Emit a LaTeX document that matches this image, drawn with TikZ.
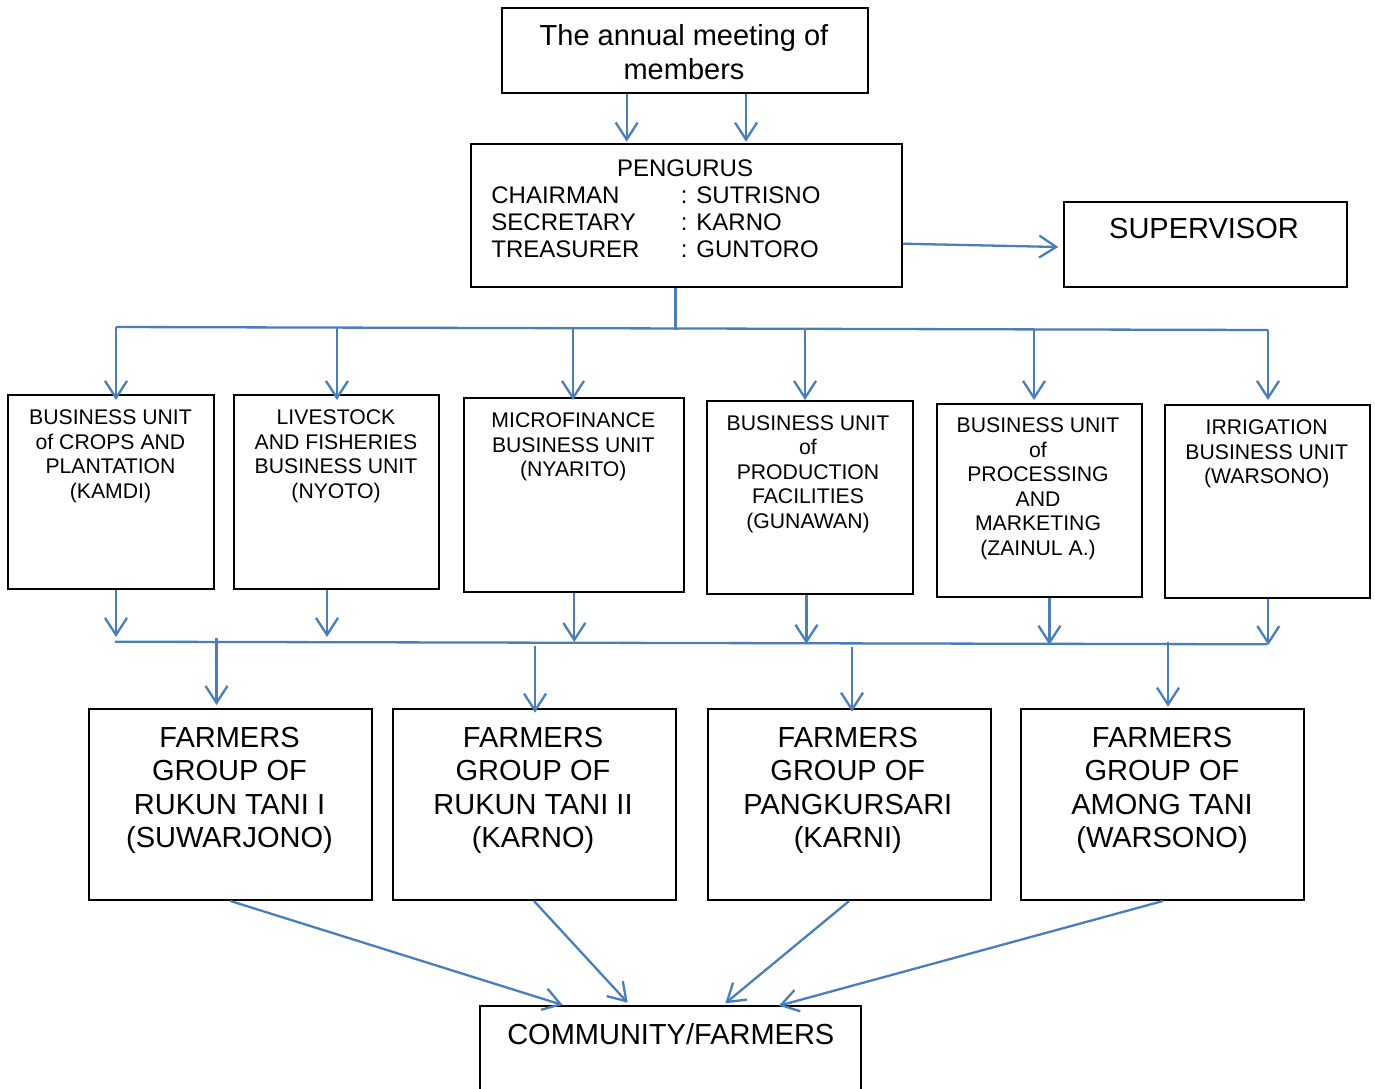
\documentclass[tikz,border=0pt]{standalone}
\usepackage{fontspec}
\setmainfont{Liberation Sans}
\usetikzlibrary{arrows.meta,calc}
\definecolor{lblue}{RGB}{74,126,187}
\begin{document}
\begin{tikzpicture}[x=0.5pt,y=-0.5pt,
  box/.style={draw=black, line width=1pt, rectangle, inner sep=0pt, anchor=north west},
  txt/.style={inner sep=0pt, anchor=north, align=center},
  arr/.style={draw=lblue, line width=1.15pt, -{Straight Barb[length=8.5pt,width=11pt]}},
  ln/.style={draw=lblue, line width=1.15pt},
  big/.style={font=\fontsize{14.5}{16.7}\selectfont},
  mid/.style={font=\fontsize{12}{13.5}\selectfont},
  small/.style={font=\fontsize{10.6}{12.25}\selectfont},
  unitbox/.style={box, minimum width=102.5pt, minimum height=96.7pt},
  farmbox/.style={box, minimum width=141.5pt, minimum height=95.35pt},
]
\useasboundingbox (0,0) rectangle (1375,1088);

% top boxes
\node[box, minimum width=183.3pt, minimum height=42.5pt] (tb) at (500.7,6.7) {};
\node[txt, big] (tbt) at (684,24.5) {The annual meeting of\\members};

\node[box, minimum width=215.35pt, minimum height=71.5pt] (pg) at (470,142.7) {};
\node[txt, mid] (pgt) at (685,159) {PENGURUS};
\node[inner sep=0pt, anchor=north west, align=left, mid] (pgl) at (491,186.7) {CHAIRMAN\\SECRETARY\\TREASURER};
\node[inner sep=0pt, anchor=north west, align=left, mid] (pgr) at (680.5,186.7) {: SUTRISNO\\: KARNO\\: GUNTORO};

\node[box, minimum width=141.5pt, minimum height=42.5pt] (sup) at (1062.7,200.7) {};
\node[txt, big] (supt) at (1204,218.3) {SUPERVISOR};

% business units
\node[unitbox, minimum width=102.7pt, minimum height=97pt] (u1) at (7.3,394.3) {};
\node[unitbox, minimum height=97pt] (u2) at (233.3,394.3) {};
\node[unitbox, minimum width=110pt] (u3) at (463.3,397.3) {};
\node[unitbox, minimum width=102.85pt] (u4) at (706,400) {};
\node[unitbox] (u5) at (936,402.7) {};
\node[unitbox] (u6) at (1164,404) {};

\node[txt, small] (u1t) at (110.5,409.3) {BUSINESS UNIT\\of CROPS AND\\PLANTATION\\(KAMDI)};
\node[txt, small] (u2t) at (336,409.3) {LIVESTOCK\\AND FISHERIES\\BUSINESS UNIT\\(NYOTO)};
\node[txt, small] (u3t) at (573.3,412.7) {MICROFINANCE\\BUSINESS UNIT\\(NYARITO)};
\node[txt, small] (u4t) at (808,415) {BUSINESS UNIT\\of\\PRODUCTION\\FACILITIES\\(GUNAWAN)};
\node[txt, small] (u5t) at (1038,417.7) {BUSINESS UNIT\\of\\PROCESSING\\AND\\MARKETING\\(ZAINUL A.)};
\node[txt, small] (u6t) at (1266.7,419.3) {IRRIGATION\\BUSINESS UNIT\\(WARSONO)};

% farmers groups
\node[farmbox] (f1) at (88,708.3) {};
\node[farmbox] (f2) at (391.5,708.3) {};
\node[farmbox] (f3) at (706.6,708.3) {};
\node[farmbox] (f4) at (1020.4,708.3) {};
\node[txt, big] (f1t) at (229.5,726.7) {FARMERS\\GROUP OF\\RUKUN TANI I\\(SUWARJONO)};
\node[txt, big] (f2t) at (533,726.7) {FARMERS\\GROUP OF\\RUKUN TANI II\\(KARNO)};
\node[txt, big] (f3t) at (847.8,726.7) {FARMERS\\GROUP OF\\PANGKURSARI\\(KARNI)};
\node[txt, big] (f4t) at (1162,726.7) {FARMERS\\GROUP OF\\AMONG TANI\\(WARSONO)};

% community (bottom cut off)
\node[inner sep=0pt, anchor=north west, minimum width=190pt, minimum height=41pt] (comm) at (480.4,1006) {};
\draw[black, line width=1pt] (comm.south west) -- (comm.north west) -- (comm.north east) -- (comm.south east);
\node[txt, big] (commt) at (670.8,1023.3) {COMMUNITY/FARMERS};

% connectors: meeting -> pengurus
\coordinate (a1) at ($(tb.south)+(-58.3,0)$);
\coordinate (a2) at ($(tb.south)+(61,0)$);
\draw[arr] (a1) -- ($(a1 |- pg.north)+(0,-1)$);
\draw[arr] (a2) -- ($(a2 |- pg.north)+(0,-1)$);

% pengurus -> supervisor
\draw[arr] ($(pg.east)+(0,28.5)$) -- ($(sup.west)+(-4.4,2.8)$);

% pengurus -> bus 1
\coordinate (b1L) at (116,327);
\coordinate (b1R) at (1268,330);
\draw[ln] ($(pg.south)+(-11,0)$) -- ++(0,42.75);
\draw[ln] (b1L) -- (b1R);
\coordinate (d1) at (b1L);
\coordinate (d2) at ($(b1L)!0.1918!(b1R)$);
\coordinate (d3) at ($(b1L)!0.3967!(b1R)$);
\coordinate (d4) at ($(b1L)!0.5981!(b1R)$);
\coordinate (d5) at ($(b1L)!0.7969!(b1R)$);
\coordinate (d6) at (b1R);
\draw[arr] (d1) -- ($(d1 |- u1.north)+(0,5.7)$);
\draw[arr] (d2) -- ($(d2 |- u2.north)+(0,5.7)$);
\draw[arr] (d3) -- ($(d3 |- u3.north)+(0,2.7)$);
\draw[arr] (d4) -- ($(d4 |- u4.north)+(0,0)$);
\draw[arr] (d5) -- ($(d5 |- u5.north)+(0,-2.7)$);
\draw[arr] (d6) -- ($(d6 |- u6.north)+(0,-4)$);

% units -> bus 2
\draw[arr] ($(u1.south)+(5,0)$) -- ++(0,46.7);
\draw[arr] ($(u2.south)+(-9.8,0)$) -- ++(0,46.7);
\draw[arr] ($(u3.south)+(0,0)$) -- ++(0,49.3);
\draw[arr] ($(u4.south)+(-3.45,0)$) -- ++(0,48.4);
\draw[arr] ($(u5.south)+(9.9,0)$) -- ++(0,46.7);
\draw[arr] ($(u6.south)+(0.8,0)$) -- ++(0,45.7);
\coordinate (b2L) at (115,641.7);
\coordinate (b2R) at (1267.3,644.3);
\draw[ln] (b2L) -- (b2R);

% bus 2 -> farmers
\coordinate (e1) at (216.5,638);
\coordinate (e2) at (535,646);
\coordinate (e3) at (852,646.7);
\coordinate (e4) at (1168,641.7);
\draw[arr] (e1) -- ($(e1 |- f1.north)+(0,-3.3)$);
\draw[arr] (e2) -- ($(e2 |- f2.north)+(0,4.4)$);
\draw[arr] (e3) -- ($(e3 |- f3.north)+(0,3.4)$);
\draw[arr] (e4) -- ($(e4 |- f4.north)+(0,-1.6)$);

% farmers -> community
\draw[arr] (f1.south) -- ($(comm.north west)+(82.2,-1)$);
\draw[arr] (f2.south) -- ($(comm.north west)+(147.3,-3.3)$);
\draw[arr] (f3.south) -- ($(comm.north west)+(244.9,-2.7)$);
\draw[arr] (f4.south) -- ($(comm.north west)+(298.5,-0.3)$);
\end{tikzpicture}
\end{document}
